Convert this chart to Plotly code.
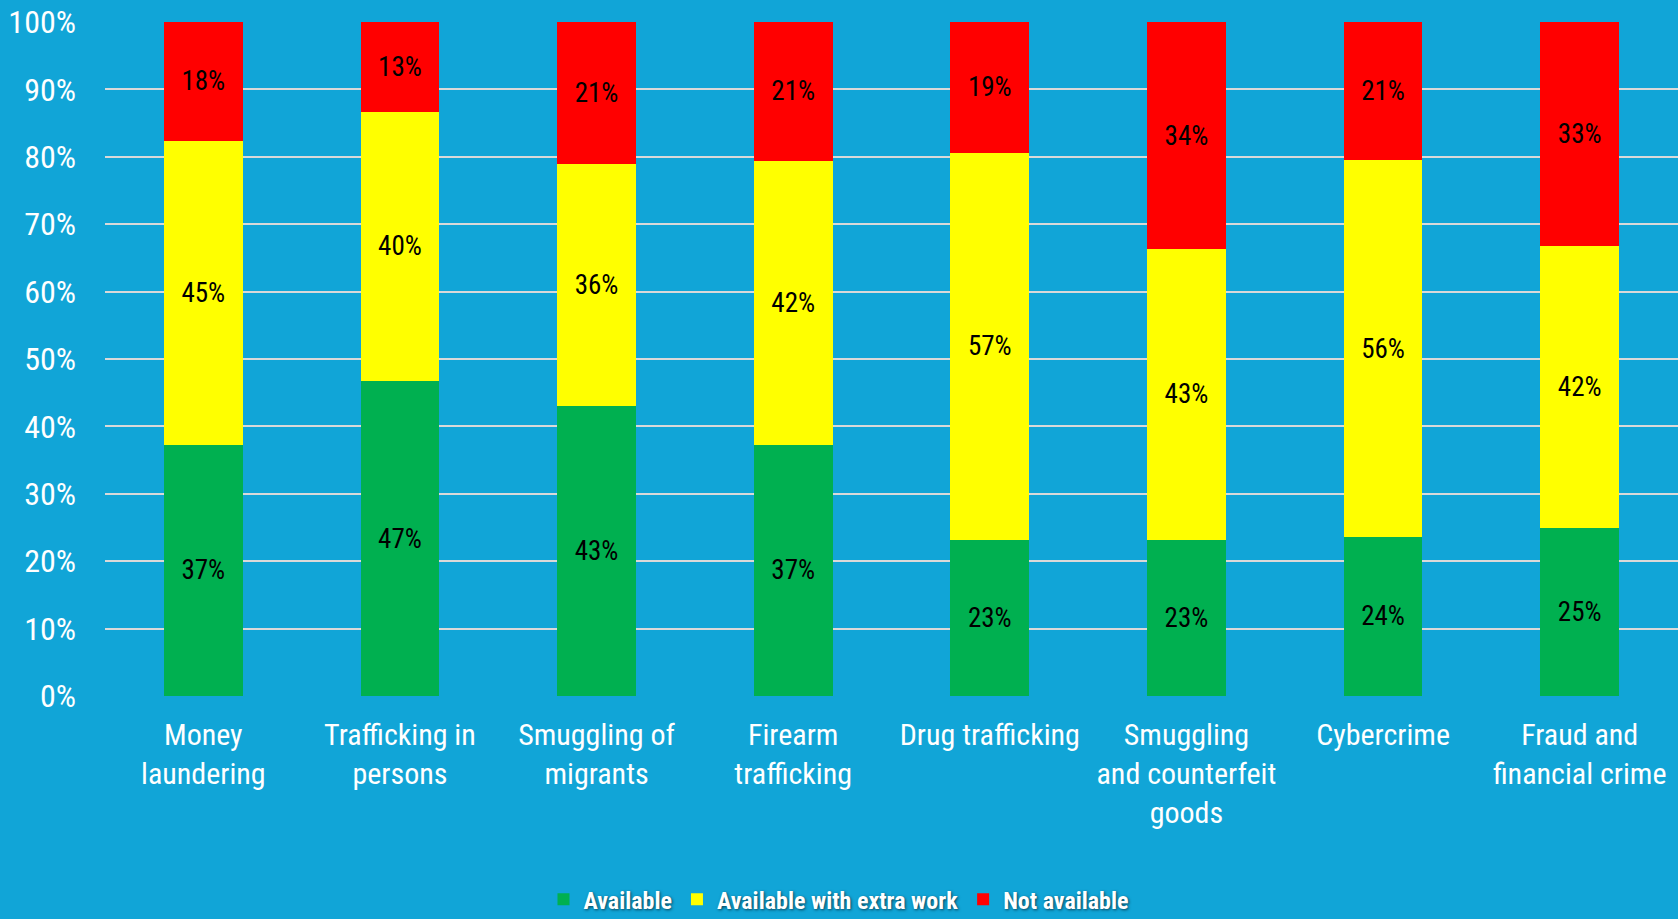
import plotly.graph_objects as go

categories = [
    "Money<br>laundering",
    "Trafficking in<br>persons",
    "Smuggling of<br>migrants",
    "Firearm<br>trafficking",
    "Drug trafficking",
    "Smuggling<br>and counterfeit<br>goods",
    "Cybercrime",
    "Fraud and<br>financial crime",
]
available = [37.3, 46.7, 43.0, 37.3, 23.2, 23.2, 23.6, 25.0]
extra_work = [45.1, 40.0, 36.0, 42.1, 57.4, 43.1, 55.9, 41.7]
not_available = [17.6, 13.3, 21.0, 20.6, 19.4, 33.7, 20.5, 33.3]

y_ticks = [0, 10, 20, 30, 40, 50, 60, 70, 80, 90, 100]
y_tick_labels = ["0%", "10%", "20%", "30%", "40%", "50%", "60%", "70%", "80%", "90%", "100%"]

series = [
    ("Available", available, "#00B050"),
    ("Available with extra work", extra_work, "#FFFF00"),
    ("Not available", not_available, "#FF0000"),
]

FONT = "Roboto Condensed"
BG = "#11A5D7"

fig = go.Figure()
for name, vals, color in series:
    fig.add_trace(go.Bar(
        x=categories, y=vals, name=name,
        marker=dict(color=color, line=dict(width=0)),
        texttemplate="%{y:.0f}%",
        textposition="inside",
        insidetextanchor="middle",
        textangle=0,
        constraintext="none",
        textfont=dict(family=FONT, size=27, color="black"),
        hoverinfo="skip",
    ))

fig.update_layout(
    barmode="stack",
    bargap=0.6,
    width=1678, height=919,
    paper_bgcolor=BG, plot_bgcolor=BG,
    margin=dict(l=105, r=0, t=22, b=223),
    font=dict(family=FONT, color="white"),
    showlegend=True,
    legend=dict(
        orientation="h",
        x=0.5, xanchor="center", xref="container",
        y=0.021, yanchor="middle", yref="container",
        font=dict(family=FONT, size=24, color="white", weight="bold",
                  shadow="1px 1px 3px rgba(0,0,0,0.6)"),
        itemwidth=30,
        traceorder="normal",
        bgcolor="rgba(0,0,0,0)",
    ),
    xaxis=dict(
        tickfont=dict(family=FONT, size=30, color="white"),
        tickangle=0,
        showgrid=False, showline=False, ticks="",
        ticklabelstandoff=18,
    ),
    yaxis=dict(
        range=[0, 100],
        tickmode="array",
        tickvals=y_ticks,
        ticktext=y_tick_labels,
        tickfont=dict(family=FONT, size=32, color="white"),
        showgrid=True, gridcolor="#D9D9D9", gridwidth=2,
        zeroline=False, showline=False, ticks="",
        ticklabelstandoff=28,
    ),
)

fig.write_html(
    "out.html",
    config={"displayModeBar": False},
    post_script="document.body.style.margin='0';document.body.style.overflow='hidden';",
)
